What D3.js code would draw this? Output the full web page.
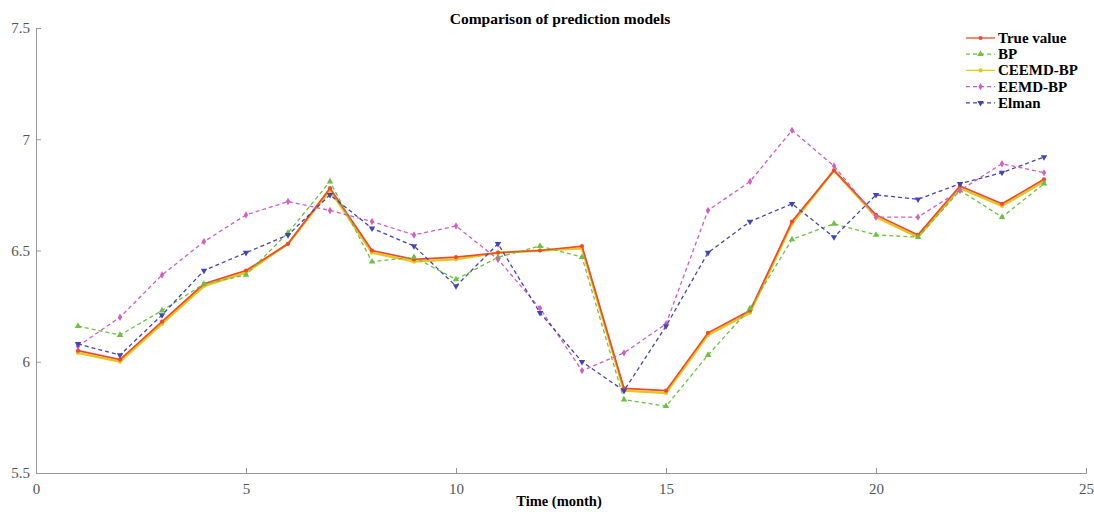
<!DOCTYPE html>
<html>
<head>
<meta charset="utf-8">
<script src="https://cdn.jsdelivr.net/npm/d3@7"></script>
<style>
  body { margin: 0; background: #fff; }
  text { font-family: "Liberation Serif", "DejaVu Serif", serif; }
</style>
</head>
<body>
<script>
// months on the x axis
var months = d3.range(1, 25);

// series values
var trueValue = [6.05, 6.01, 6.18, 6.35, 6.41, 6.53, 6.78, 6.50, 6.46, 6.47, 6.49, 6.50, 6.52, 5.88, 5.87, 6.13, 6.23, 6.63, 6.86, 6.66, 6.57, 6.79, 6.71, 6.82];
var bp = [6.16, 6.12, 6.23, 6.35, 6.39, 6.58, 6.81, 6.45, 6.47, 6.37, 6.47, 6.52, 6.47, 5.83, 5.80, 6.03, 6.24, 6.55, 6.62, 6.57, 6.56, 6.77, 6.65, 6.80];
var ceemdBp = [6.04, 6.00, 6.17, 6.34, 6.40, 6.53, 6.77, 6.49, 6.45, 6.46, 6.49, 6.50, 6.51, 5.87, 5.86, 6.12, 6.22, 6.62, 6.86, 6.65, 6.56, 6.78, 6.70, 6.81];
var eemdBp = [6.07, 6.20, 6.39, 6.54, 6.66, 6.72, 6.68, 6.63, 6.57, 6.61, 6.46, 6.24, 5.96, 6.04, 6.17, 6.68, 6.81, 7.04, 6.88, 6.65, 6.65, 6.77, 6.89, 6.85];
var elman = [6.08, 6.03, 6.21, 6.41, 6.49, 6.57, 6.75, 6.60, 6.52, 6.34, 6.53, 6.22, 6.00, 5.87, 6.16, 6.49, 6.63, 6.71, 6.56, 6.75, 6.73, 6.80, 6.85, 6.92];

var xTicks = [0, 5, 10, 15, 20, 25];
var yTicks = [5.5, 6, 6.5, 7, 7.5];

var series = [
  { name: "CEEMD-BP", values: ceemdBp, color: "#e2c81e", dash: null, width: 2.4, marker: "circle" },
  { name: "True value", values: trueValue, color: "#f04a2a", dash: null, width: 1.7, marker: "circle" },
  { name: "BP", values: bp, color: "#6cc044", dash: "4,3", width: 1.3, marker: "triangle" },
  { name: "EEMD-BP", values: eemdBp, color: "#d45cc4", dash: "4,3", width: 1.3, marker: "diamond" },
  { name: "Elman", values: elman, color: "#4444b4", dash: "4,3", width: 1.3, marker: "down" }
];
var legendOrder = ["True value", "BP", "CEEMD-BP", "EEMD-BP", "Elman"];

var width = 1094, height = 512;
var margin = { top: 28, right: 8, bottom: 39, left: 36 };

var svg = d3.select("body").append("svg")
    .attr("width", width)
    .attr("height", height);

var x = d3.scaleLinear().domain([0, 25]).range([margin.left, width - margin.right]);
var y = d3.scaleLinear().domain([5.5, 7.5]).range([height - margin.bottom, margin.top]);

// axes
var xAxis = svg.append("g")
    .attr("transform", "translate(0," + (height - margin.bottom) + ")")
    .call(d3.axisBottom(x).tickValues(xTicks).tickSize(-5).tickPadding(10).tickFormat(d3.format("d")));
var yAxis = svg.append("g")
    .attr("transform", "translate(" + margin.left + ",0)")
    .call(d3.axisLeft(y).tickValues(yTicks).tickSize(-5).tickPadding(6).tickFormat(function (d) { return d; }));

[xAxis, yAxis].forEach(function (a) {
  a.attr("font-family", null).attr("font-size", null);
  a.select(".domain").attr("stroke", "#999");
  a.selectAll(".tick line").attr("stroke", "#999");
  a.selectAll(".tick text").attr("fill", "#555").style("font-size", "15px");
});

// title and axis label
svg.append("text")
    .attr("x", 560).attr("y", 24)
    .attr("text-anchor", "middle")
    .style("font-size", "15.5px").style("font-weight", "bold")
    .text("Comparison of prediction models");
svg.append("text")
    .attr("x", 559).attr("y", 506)
    .attr("text-anchor", "middle")
    .style("font-size", "14.5px").style("font-weight", "bold")
    .text("Time (month)");

var symbols = {
  circle: d3.symbol().type(d3.symbolCircle).size(14),
  triangle: d3.symbol().type(d3.symbolTriangle).size(18),
  diamond: d3.symbol().type(d3.symbolDiamond).size(16),
  down: d3.symbol().type(d3.symbolTriangle).size(18)
};

var line = d3.line()
    .x(function (d, i) { return x(months[i]); })
    .y(function (d) { return y(d); });

series.forEach(function (s) {
  var g = svg.append("g");
  g.append("path")
      .attr("d", line(s.values))
      .attr("fill", "none")
      .attr("stroke", s.color)
      .attr("stroke-width", s.width)
      .attr("stroke-dasharray", s.dash);
  g.selectAll("path.m")
      .data(s.values)
      .enter().append("path")
      .attr("class", "m")
      .attr("d", symbols[s.marker])
      .attr("transform", function (d, i) {
        return "translate(" + x(months[i]) + "," + y(d) + ")" + (s.marker === "down" ? " rotate(180)" : "");
      })
      .attr("fill", s.color);
});

// legend
var legend = svg.append("g");
legendOrder.forEach(function (name, k) {
  var s = series.find(function (d) { return d.name === name; });
  var ly = 38 + k * 16.2;
  var row = legend.append("g");
  row.append("line")
      .attr("x1", 966).attr("x2", 995)
      .attr("y1", ly).attr("y2", ly)
      .attr("stroke", s.color)
      .attr("stroke-width", 1.3)
      .attr("stroke-dasharray", s.dash);
  row.append("path")
      .attr("d", symbols[s.marker])
      .attr("transform", "translate(980.5," + ly + ")" + (s.marker === "down" ? " rotate(180)" : ""))
      .attr("fill", s.color);
  row.append("text")
      .attr("x", 998).attr("y", ly + 5)
      .style("font-size", "15px").style("font-weight", "bold")
      .text(name);
});
</script>
</body>
</html>
